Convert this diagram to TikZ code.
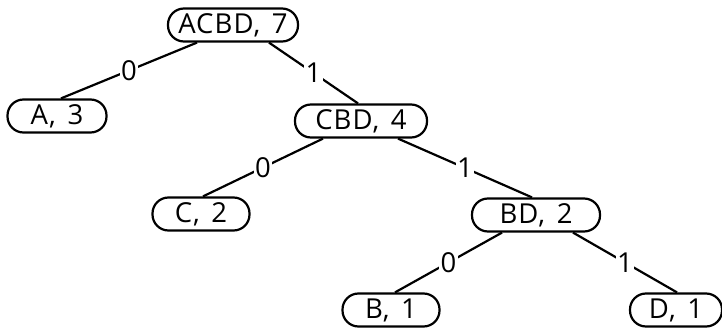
\documentclass[tikz,border=0pt]{standalone}
\usepackage{fontspec}
\setmainfont{Open Sans}[LetterSpace=4,WordSpace=1.4]
\begin{document}
\begin{tikzpicture}[x=1pt,y=-1pt,
  pill/.style={draw, line width=2.2pt, rounded corners=16pt, minimum height=33pt, inner sep=0pt, font=\fontsize{27.5}{29}\selectfont, fill=white},
  edge/.style={line width=2.2pt},
  lbl/.style={fill=white, inner sep=1.5pt, font=\fontsize{27.5}{29}\selectfont}]
\useasboundingbox (0,0) rectangle (722,328);
\node[pill, minimum width=130pt] (r) at (233,25) {ACBD, 7};
\node[pill, minimum width=99pt] (a) at (57,116) {A, 3};
\node[pill, minimum width=132pt] (cbd) at (361,121) {CBD, 4};
\node[pill, minimum width=97pt] (c) at (201,214) {C, 2};
\node[pill, minimum width=128pt] (bd) at (536,215) {BD, 2};
\node[pill, minimum width=97pt] (b) at (391,310) {B, 1};
\node[pill, minimum width=92pt] (d) at (676,310) {D, 1};
\draw[edge] ([xshift=-36pt]r.south) -- node[lbl]{0} ([xshift=4pt]a.north);
\draw[edge] ([xshift=36pt]r.south) -- node[lbl]{1} ([xshift=-3pt]cbd.north);
\draw[edge] ([xshift=-38pt]cbd.south) -- node[lbl]{0} ([xshift=2pt]c.north);
\draw[edge] ([xshift=37pt]cbd.south) -- node[lbl]{1} ([xshift=-4pt]bd.north);
\draw[edge] ([xshift=-34pt]bd.south) -- node[lbl]{0} ([xshift=4pt]b.north);
\draw[edge] ([xshift=37pt]bd.south) -- node[lbl]{1} ([xshift=1pt]d.north);
\end{tikzpicture}
\end{document}
